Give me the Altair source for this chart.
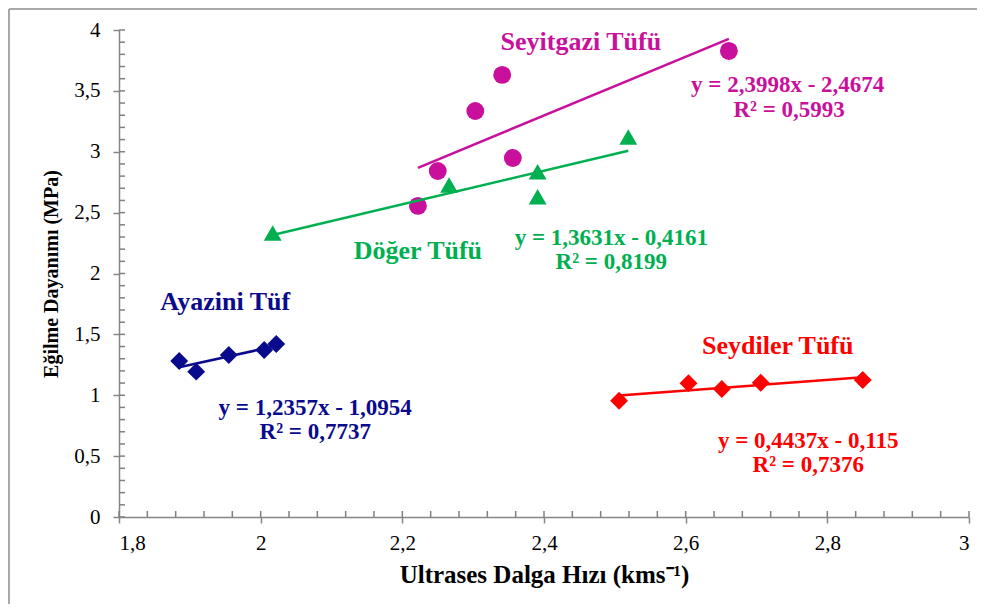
import altair as alt
import pandas as pd

# ---- data ----
ayazini_x = [1.885, 1.909, 1.955, 2.005, 2.022]
ayazini_y = [1.281, 1.194, 1.331, 1.372, 1.421]
seydiler_x = [2.506, 2.604, 2.651, 2.706, 2.850]
seydiler_y = [0.955, 1.098, 1.051, 1.103, 1.125]
seyitgazi_x = [2.222, 2.250, 2.303, 2.341, 2.356, 2.661]
seyitgazi_y = [2.555, 2.842, 3.335, 3.631, 2.949, 3.828]
doger_x = [2.017, 2.266, 2.391, 2.391, 2.519]
doger_y = [2.333, 2.727, 2.836, 2.631, 3.121]

groups = ["Ayazini", "Seydiler", "Seyitgazi", "Doger"]
colors = ["#0A0A8C", "#FF0000", "#C8109C", "#00B050"]
shapes = ["diamond", "diamond", "circle", "triangle-up"]
sizes = [320, 320, 230, 300]

x_ticks = [1.8, 2.0, 2.2, 2.4, 2.6, 2.8, 3.0]
y_ticks = [0, 0.5, 1, 1.5, 2, 2.5, 3, 3.5, 4]
x_minor = [round(1.8 + 0.04 * i, 2) for i in range(31)]
y_minor = [round(0.1 * i, 1) for i in range(41)]

label_text = ["Seyitgazi Tüfü", "y = 2,3998x - 2,4674", "R² = 0,5993",
              "Döğer Tüfü", "y = 1,3631x - 0,4161", "R² = 0,8199",
              "Ayazini Tüf", "y = 1,2357x - 1,0954", "R² = 0,7737",
              "Seydiler Tüfü", "y = 0,4437x - 0,115", "R² = 0,7376"]
label_x = [2.452, 2.744, 2.746, 2.222, 2.495, 2.495,
           1.950, 2.077, 2.077, 2.730, 2.773, 2.773]
label_y = [3.901, 3.548, 3.343, 2.185, 2.292, 2.094,
           1.766, 0.895, 0.698, 1.404, 0.624, 0.427]
label_group = ["Seyitgazi", "Seyitgazi", "Seyitgazi", "Doger", "Doger", "Doger",
               "Ayazini", "Ayazini", "Ayazini", "Seydiler", "Seydiler", "Seydiler"]
label_kind = ["title", "eq", "eq"] * 4

# ---- tables ----
rows = []
for g, xs, ys in [("Ayazini", ayazini_x, ayazini_y), ("Seydiler", seydiler_x, seydiler_y),
                  ("Seyitgazi", seyitgazi_x, seyitgazi_y), ("Doger", doger_x, doger_y)]:
    for a, b in zip(xs, ys):
        rows.append({"x": a, "y": b, "group": g})
df = pd.DataFrame(rows)
labels = pd.DataFrame({"x": label_x, "y": label_y, "text": label_text,
                       "group": label_group, "kind": label_kind})
xminor_df = pd.DataFrame({"v": x_minor})
yminor_df = pd.DataFrame({"v": y_minor})

W, H = 850, 487
xscale = alt.Scale(domain=[1.8, 3.0], nice=False, zero=False)
yscale = alt.Scale(domain=[0, 4], nice=False)
cscale = alt.Scale(domain=groups, range=colors)
sscale = alt.Scale(domain=groups, range=shapes)
zscale = alt.Scale(domain=groups, range=sizes)
fmt = "replace(format(datum.value, '.2~f'), '.', ',')"

points = alt.Chart(df).mark_point(filled=True, opacity=1).encode(
    x=alt.X("x:Q", scale=xscale,
            axis=alt.Axis(orient="bottom", values=x_ticks, labelExpr=fmt, tickSize=6,
                          labelPadding=9, title="Ultrases Dalga Hızı (kms⁻¹)",
                          titlePadding=9, titleFontSize=25)),
    y=alt.Y("y:Q", scale=yscale,
            axis=alt.Axis(orient="left", values=y_ticks, labelExpr=fmt, tickSize=6,
                          labelPadding=13, title="Eğilme  Dayanımı  (MPa)",
                          titlePadding=12, titleFontSize=20)),
    color=alt.Color("group:N", scale=cscale, legend=None),
    shape=alt.Shape("group:N", scale=sscale, legend=None),
    size=alt.Size("group:N", scale=zscale, legend=None),
)

xminor = alt.Chart(xminor_df).mark_rule(color="#808080", strokeWidth=1.5).encode(
    x=alt.X("v:Q", scale=xscale, axis=None),
    y=alt.value(H - 6), y2=alt.value(H),
)
yminor = alt.Chart(yminor_df).mark_rule(color="#808080", strokeWidth=1.5).encode(
    y=alt.Y("v:Q", scale=yscale, axis=None),
    x=alt.value(0), x2=alt.value(6),
)

lines = alt.Chart(df).transform_regression(
    "x", "y", groupby=["group"]
).mark_line(strokeWidth=2.5).encode(
    x=alt.X("x:Q", scale=xscale, axis=None),
    y=alt.Y("y:Q", scale=yscale, axis=None),
    color=alt.Color("group:N", scale=cscale, legend=None),
)

titles = alt.Chart(labels).transform_filter(alt.datum.kind == "title").mark_text(
    font="Liberation Serif", fontWeight="bold", fontSize=26, baseline="middle", align="center"
).encode(
    x=alt.X("x:Q", scale=xscale, axis=None),
    y=alt.Y("y:Q", scale=yscale, axis=None),
    text="text:N",
    color=alt.Color("group:N", scale=cscale, legend=None),
)

eqs = alt.Chart(labels).transform_filter(alt.datum.kind == "eq").mark_text(
    font="Liberation Serif", fontWeight="bold", fontSize=23, baseline="middle", align="center"
).encode(
    x=alt.X("x:Q", scale=xscale, axis=None),
    y=alt.Y("y:Q", scale=yscale, axis=None),
    text="text:N",
    color=alt.Color("group:N", scale=cscale, legend=None),
)

one = pd.DataFrame({"a": [0]})
border_top = alt.Chart(one).mark_rule(color="#8C8C8C", strokeWidth=1.5).encode(
    x=alt.value(-110), x2=alt.value(870), y=alt.value(-21))
border_left = alt.Chart(one).mark_rule(color="#8C8C8C", strokeWidth=1.5).encode(
    x=alt.value(-110), y=alt.value(-21), y2=alt.value(600))

chart = alt.layer(
    border_top, border_left, xminor, yminor, points, lines, titles, eqs
).resolve_axis(x="independent", y="independent").properties(
    width=W, height=H,
    autosize=alt.AutoSizeParams(type="none"),
    padding={"left": 111, "top": 22, "right": 8, "bottom": 87},
).configure_view(stroke=None).configure_axis(
    grid=False,
    domainColor="#868686", tickColor="#868686", domainWidth=1.5, tickWidth=1.5,
    labelFont="Liberation Serif", labelFontSize=21, labelColor="#000000",
    titleFont="Liberation Serif", titleFontWeight="bold", titleColor="#000000",
)

chart.save("out.html", embed_options={"renderer": "svg", "actions": False})
